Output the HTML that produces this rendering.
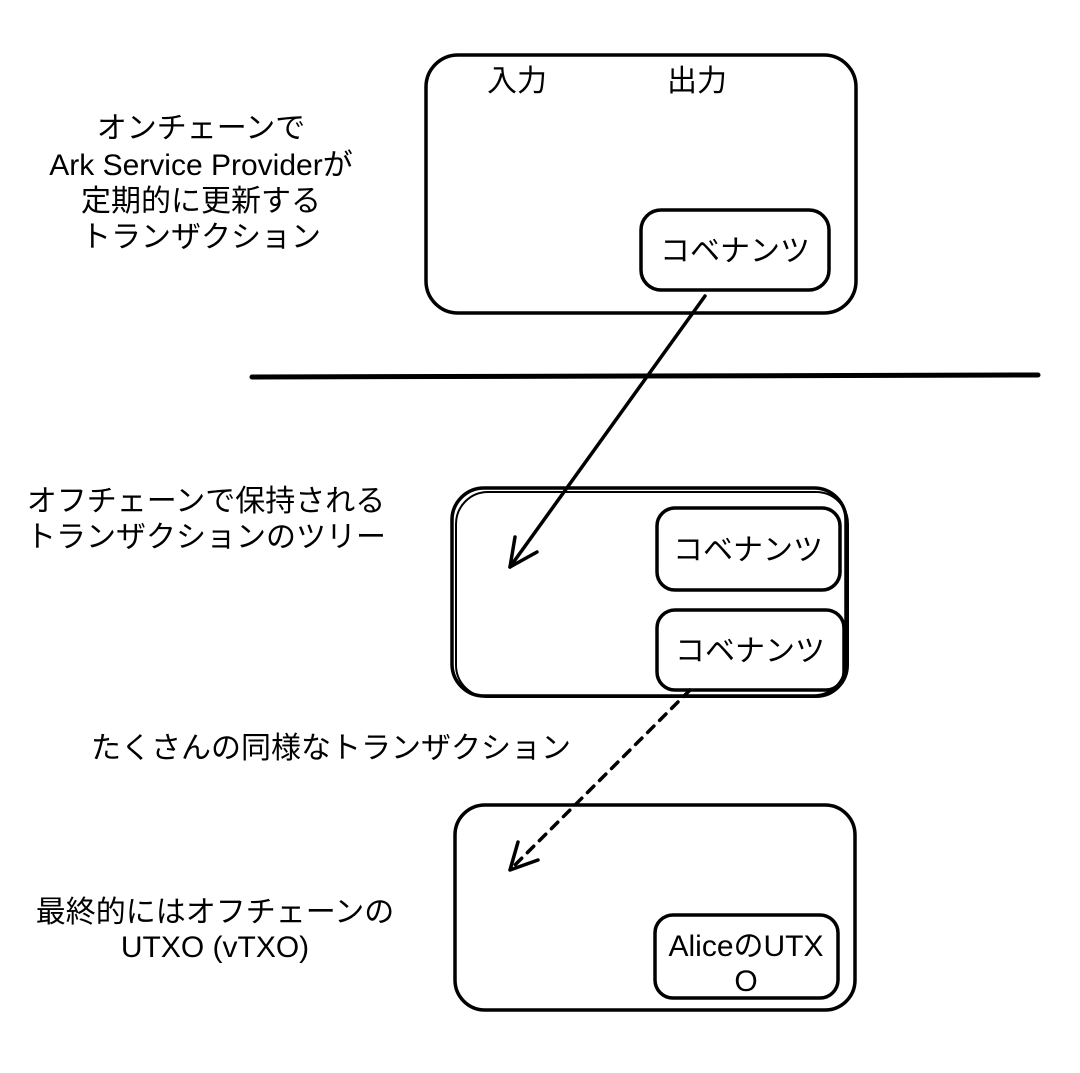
<!DOCTYPE html>
<html><head><meta charset="utf-8"><style>
html,body{margin:0;padding:0;background:#fff}
svg text{font-family:"Liberation Sans","Noto Sans CJK JP",sans-serif;font-size:30px;fill:#000}
</style></head><body>
<svg width="1080" height="1068" viewBox="0 0 1080 1068" xmlns="http://www.w3.org/2000/svg">
<g fill="none" stroke="#000" stroke-width="3.5" stroke-linecap="round" stroke-linejoin="round">
<rect x="426" y="55" width="430" height="258" rx="32"/>
<rect x="641" y="210" width="188" height="80" rx="20"/>
<line x1="252" y1="377" x2="1038" y2="375" stroke-width="5"/>
<path d="M705 296 L510 567"/>
<path d="M510 567 L515 537 M510 567 L537 552"/>
<rect x="452" y="488" width="394" height="208" rx="32"/>
<rect x="456" y="492" width="392" height="205" rx="32" stroke-width="2"/>
<rect x="657" y="508" width="183" height="82" rx="18"/>
<rect x="657" y="610" width="187" height="80" rx="18"/>
<path d="M690 690 L510 870" stroke-dasharray="9 8"/>
<path d="M510 870 L518 842 M510 870 L538 860"/>
<rect x="455" y="805" width="400" height="205" rx="30"/>
<rect x="655" y="915" width="183" height="83" rx="18"/>
</g>
<g text-anchor="middle">
<text x="517" y="91">入力</text>
<text x="697" y="91">出力</text>
<text x="735" y="261">コベナンツ</text>
<text x="201" y="138">オンチェーンで</text>
<text x="201" y="175">Ark Service Providerが</text>
<text x="201" y="211">定期的に更新する</text>
<text x="201" y="247">トランザクション</text>
<text x="206" y="511">オフチェーンで保持される</text>
<text x="206" y="547">トランザクションのツリー</text>
<text x="748" y="560">コベナンツ</text>
<text x="750" y="661">コベナンツ</text>
<text x="331" y="758">たくさんの同様なトランザクション</text>
<text x="215" y="922">最終的にはオフチェーンの</text>
<text x="215" y="957">UTXO (vTXO)</text>
<text x="746" y="956">AliceのUTX</text>
<text x="746" y="991">O</text>
</g>
</svg>
</body></html>
